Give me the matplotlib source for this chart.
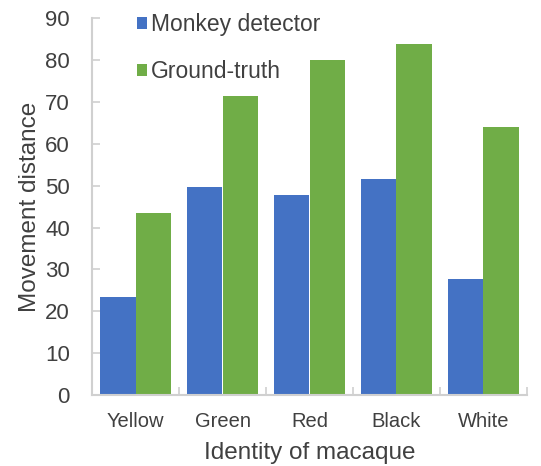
import matplotlib
matplotlib.use("Agg")
import matplotlib.pyplot as plt
import numpy as np

categories = ["Yellow", "Green", "Red", "Black", "White"]
monkey_detector = [23.3, 49.8, 47.8, 51.7, 27.7]
ground_truth = [43.6, 71.5, 80.0, 83.9, 64.0]

plt.rcParams['font.family'] = ['Liberation Sans', 'DejaVu Sans']
text_color = '#404040'
axis_color = '#d0d0d0'

fig = plt.figure(figsize=(5.41, 4.66), dpi=100)
ax = fig.add_axes([92/541, 1-395/466, (527-92)/541, (395-18.3)/466])

x = np.arange(len(categories))
w = 0.41
b1 = ax.bar(x - w/2, monkey_detector, width=w, color='#4472C4', label='Monkey detector', zorder=2)
b2 = ax.bar(x + w/2, ground_truth, width=w, color='#70AD47', label='Ground-truth', zorder=2)

ax.set_xlim(-0.5, len(categories) - 0.5)
ax.set_ylim(0, 90)
ax.set_yticks(np.arange(0, 91, 10))
ax.set_xticks(x)
ax.set_xticklabels(categories)
ax.set_xticks(np.arange(0.5, len(categories) - 0.5 + 1e-9, 1.0), minor=True)
ax.tick_params(axis='x', which='major', length=0, pad=12, labelsize=14.5, labelcolor=text_color)
ax.tick_params(axis='x', which='minor', direction='in', length=6, width=1.2, color=axis_color)
ax.tick_params(axis='y', which='major', direction='in', length=6, width=1.2, color=axis_color,
               labelsize=16, labelcolor=text_color, pad=16)

for s in ['top', 'right']:
    ax.spines[s].set_visible(False)
for s in ['left', 'bottom']:
    ax.spines[s].set_color(axis_color)
    ax.spines[s].set_linewidth(1.5)

ax.set_ylabel('Movement distance', fontsize=17.5, color=text_color, labelpad=3)
ax.set_xlabel('Identity of macaque', fontsize=17.5, color=text_color, labelpad=8)

fig.legend(handles=[b1, b2], loc='upper left', bbox_to_anchor=(137/541, 0.972),
           frameon=False, fontsize=16.5, handlelength=0.42, handleheight=0.42,
           handletextpad=0.2, labelspacing=1.05, borderpad=0, borderaxespad=0,
           labelcolor=text_color)

fig.savefig('out.png', dpi=100)
